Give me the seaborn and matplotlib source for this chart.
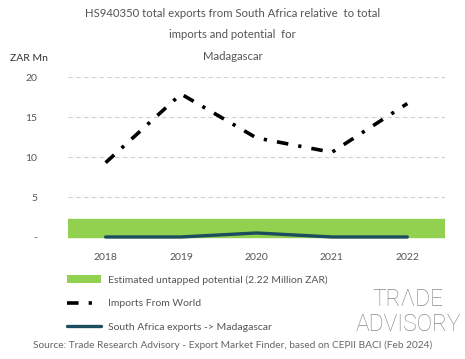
import pandas as pd
import matplotlib.pyplot as plt
import seaborn as sns
from matplotlib.patches import Patch
from matplotlib.lines import Line2D

# chart values
years = ['2018', '2019', '2020', '2021', '2022']
imports_world = [9.3, 17.9, 12.4, 10.6, 16.7]
sa_exports = [0.0, 0.0, 0.5, 0.0, 0.0]
untapped = 2.22

sns.set_style('white')
plt.rcParams['font.family'] = ['Lato', 'DejaVu Sans']

df = pd.DataFrame({'year': years, 'imports': imports_world, 'exports': sa_exports})

fig = plt.figure(figsize=(4.65, 3.59), dpi=100)
ax = fig.add_axes([0.146, 0.331, 0.811, 0.454])

txt = '#555555'
green = '#92d050'
teal = '#1b4d5e'
dashdot = (0, (3.2, 2.8, 0.9, 2.8))

# untapped potential band across the full width
ax.axhspan(0, untapped, color=green, zorder=1)

sns.lineplot(data=df, x='year', y='imports', ax=ax, color='black', lw=2.6,
             linestyle=dashdot, sort=False, zorder=3)
sns.lineplot(data=df, x='year', y='exports', ax=ax, color=teal, lw=2.4,
             sort=False, zorder=3)

ax.set_xlim(-0.5, 4.5)
ax.set_ylim(-0.4, 20)
ax.set_yticks([0, 5, 10, 15, 20])
ax.set_yticklabels(['-', '5', '10', '15', '20'])
ax.yaxis.grid(True, color='#d0d0d0', linestyle=(0, (4, 3)), lw=0.8)
ax.set_axisbelow(True)
for s in ax.spines.values():
    s.set_visible(False)
ax.tick_params(axis='both', length=0, labelsize=7.5, labelcolor=txt)
ax.tick_params(axis='y', pad=22)
ax.tick_params(axis='x', pad=9)
ax.set_xlabel('')
ax.set_ylabel('')

fig.text(0.5, 0.963, 'HS940350 total exports from South Africa relative  to total',
         ha='center', va='center', fontsize=8.2, color=txt)
fig.text(0.5, 0.905, 'imports and potential  for', ha='center', va='center',
         fontsize=8.2, color=txt)
fig.text(0.5, 0.844, 'Madagascar', ha='center', va='center', fontsize=8.2, color=txt)
fig.text(0.022, 0.838, 'ZAR Mn', ha='left', va='center', fontsize=7.5, color='#333333')

handles = [
    Patch(facecolor=green, edgecolor='none'),
    Line2D([0], [0], color='black', lw=2.6, linestyle=dashdot),
    Line2D([0], [0], color=teal, lw=2.4),
]
labels = ['Estimated untapped potential (2.22 Million ZAR)',
          'Imports From World',
          'South Africa exports -> Madagascar']
fig.legend(handles, labels, loc='upper left', bbox_to_anchor=(0.135, 0.245),
           frameon=False, fontsize=7.5, labelcolor=txt, handlelength=3.3,
           handleheight=0.8, handletextpad=0.6, labelspacing=1.35,
           borderaxespad=0)

# logo
fig.text(0.877, 0.165, 'TR\u039bDE', ha='center', va='center', fontsize=16.5,
         color='#8a8a8a', family=['Roboto', 'DejaVu Sans'], fontweight='light')
fig.text(0.878, 0.097, 'ADVISORY', ha='center', va='center', fontsize=16.5,
         color='#8a8a8a', family=['Roboto', 'DejaVu Sans'], fontweight='light')

fig.text(0.5, 0.038, 'Source: Trade Research Advisory - Export Market Finder, based on CEPII BACI (Feb 2024)',
         ha='center', va='center', fontsize=7.3, color='#666666')

fig.savefig('out.png', dpi=100)
